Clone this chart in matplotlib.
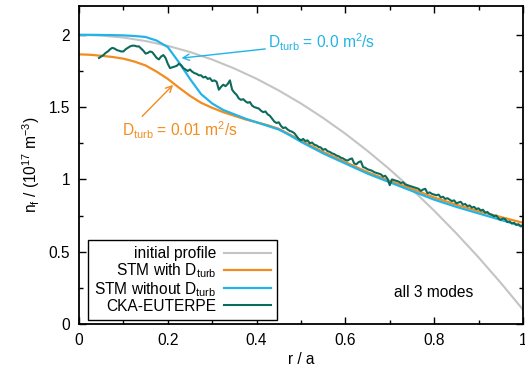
import numpy as np
import matplotlib
matplotlib.use("Agg")
import matplotlib.pyplot as plt

plt.rcParams['font.family'] = ['Liberation Sans', 'DejaVu Sans']
plt.rcParams['mathtext.fontset'] = 'custom'
plt.rcParams['mathtext.rm'] = 'Liberation Sans'
plt.rcParams['mathtext.it'] = 'Liberation Sans:italic'
plt.rcParams['font.size'] = 11.2

# initial profile
r_init = [0.0, 0.05, 0.1, 0.15, 0.2, 0.25, 0.3, 0.35, 0.4, 0.45, 0.5,
          0.55, 0.6, 0.65, 0.7, 0.75, 0.8, 0.85, 0.9, 0.95, 1.0]
n_init = [2.0, 1.995, 1.981, 1.957, 1.924, 1.881, 1.829, 1.767, 1.696, 1.615, 1.525,
          1.425, 1.316, 1.197, 1.069, 0.931, 0.784, 0.627, 0.461, 0.285, 0.10]

# STM curves
r_stm = [0.0, 0.025, 0.05, 0.075, 0.1, 0.125, 0.15, 0.175, 0.2, 0.225, 0.25,
         0.275, 0.3, 0.325, 0.35, 0.375, 0.4, 0.425, 0.45, 0.475, 0.5,
         0.55, 0.6, 0.65, 0.7, 0.75, 0.8, 0.85, 0.9, 0.95, 1.0]
n_stm_turb = [1.865, 1.862, 1.855, 1.847, 1.835, 1.815, 1.788, 1.745, 1.695, 1.635, 1.578,
              1.53, 1.495, 1.465, 1.44, 1.415, 1.395, 1.375, 1.35, 1.31, 1.27,
              1.19, 1.12, 1.05, 0.99, 0.935, 0.875, 0.825, 0.78, 0.74, 0.70]
n_stm_noturb = [2.0, 2.0, 1.999, 1.998, 1.996, 1.992, 1.985, 1.96, 1.915, 1.81, 1.695,
                1.59, 1.525, 1.48, 1.45, 1.42, 1.395, 1.37, 1.345, 1.305, 1.26,
                1.18, 1.11, 1.04, 0.98, 0.92, 0.86, 0.81, 0.765, 0.72, 0.675]

# CKA-EUTERPE, r = 0.045 ... 1.0 in steps of 0.005
r_cka = np.linspace(0.045, 1.0, 192)
n_cka = [1.84, 1.85, 1.86, 1.875, 1.885, 1.90, 1.91, 1.905, 1.895, 1.89,
         1.885, 1.885, 1.90, 1.91, 1.92, 1.925, 1.925, 1.92, 1.92, 1.905,
         1.89, 1.87, 1.875, 1.885, 1.88, 1.86, 1.84, 1.83, 1.85, 1.86,
         1.84, 1.80, 1.77, 1.775, 1.78, 1.785, 1.80, 1.79, 1.77, 1.76,
         1.75, 1.76, 1.745, 1.735, 1.73, 1.72, 1.72, 1.705, 1.71, 1.695,
         1.70, 1.68, 1.685, 1.675, 1.62, 1.64, 1.655, 1.645, 1.66, 1.685,
         1.62, 1.60, 1.585, 1.56, 1.55, 1.555, 1.54, 1.53, 1.535, 1.51,
         1.50, 1.495, 1.49, 1.475, 1.465, 1.47, 1.45, 1.44, 1.42, 1.40,
         1.39, 1.395, 1.37, 1.355, 1.36, 1.345, 1.335, 1.33, 1.32, 1.30,
         1.28, 1.27,
         1.28, 1.265, 1.27, 1.25, 1.255, 1.24, 1.235, 1.225, 1.22, 1.205,
         1.21, 1.195, 1.19, 1.18, 1.175, 1.165, 1.16, 1.15, 1.145, 1.135,
         1.13, 1.14, 1.145, 1.11, 1.105, 1.12, 1.125, 1.085, 1.08, 1.07,
         1.065, 1.06, 1.05, 1.045, 1.04, 1.035, 1.02, 1.025, 1.005, 0.96,
         1.0, 0.995, 0.99, 0.985, 0.975, 0.98, 0.965, 0.96, 0.955, 0.95,
         0.945, 0.94, 0.935, 0.92, 0.93, 0.935, 0.905, 0.91, 0.90, 0.895,
         0.89, 0.895, 0.875, 0.88, 0.865, 0.87, 0.86, 0.85, 0.855, 0.835,
         0.84, 0.845, 0.825, 0.83, 0.815, 0.82, 0.805, 0.81, 0.795, 0.80,
         0.785, 0.79, 0.77, 0.775, 0.76, 0.755, 0.745, 0.75, 0.73, 0.72,
         0.73, 0.725, 0.705, 0.71, 0.695, 0.70, 0.685, 0.69, 0.675, 0.685]

c_gray = '#c4c4c4'
c_orange = '#f28c1e'
c_blue = '#22b4e6'
c_green = '#0c6b5c'

fig, ax = plt.subplots(figsize=(5.25, 3.69), dpi=100)
fig.subplots_adjust(left=0.1505, right=0.996, top=0.984, bottom=0.122)

ax.plot(r_init, n_init, color=c_gray, lw=1.5, label='initial profile')
ax.plot(r_stm, n_stm_turb, color=c_orange, lw=1.6, label='STM with D$_\\mathrm{turb}$')
ax.plot(r_stm, n_stm_noturb, color=c_blue, lw=1.6, label='STM without D$_\\mathrm{turb}$')
ax.plot(r_cka, n_cka, color=c_green, lw=1.5, label='CKA-EUTERPE')

ax.annotate('D$_\\mathrm{turb}$ = 0.0 m$^2$/s', xy=(0.231, 1.839), xytext=(0.426, 1.945),
            color=c_blue, va='center', ha='left',
            arrowprops=dict(arrowstyle='->', color=c_blue, lw=1, shrinkA=0, shrinkB=0))
ax.annotate('D$_\\mathrm{turb}$ = 0.01 m$^2$/s', xy=(0.212, 1.654), xytext=(0.097, 1.343),
            color=c_orange, va='center', ha='left',
            arrowprops=dict(arrowstyle='->', color=c_orange, lw=1, shrinkA=0,
                            shrinkB=0, relpos=(0.15, 1.0)))
ax.text(0.80, 0.215, 'all 3 modes', ha='center', va='center')

ax.set_xlim(0, 1)
ax.set_ylim(0, 2.2)
ax.set_xticks([0, 0.2, 0.4, 0.6, 0.8, 1.0])
ax.set_xticklabels(['0', '0.2', '0.4', '0.6', '0.8', '1'])
ax.set_xticks(np.arange(0.1, 1.0, 0.2), minor=True)
ax.set_yticks([0, 0.5, 1.0, 1.5, 2.0])
ax.set_yticklabels(['0', '0.5', '1', '1.5', '2'])
ax.set_yticks([0.25, 0.75, 1.25, 1.75], minor=True)
ax.tick_params(which='both', direction='in', top=True, right=True, width=1)
ax.tick_params(which='major', length=5, pad=6.5)
ax.tick_params(which='minor', length=3)
for s in ax.spines.values():
    s.set_linewidth(1.3)

ax.set_xlabel('r / a', labelpad=3)
ax.set_ylabel('n$_\\mathrm{f}$ / (10$^{17}$ m$^{-3}$)', labelpad=5)

leg = ax.legend(loc='lower left', bbox_to_anchor=(0.02, 0.013), markerfirst=False,
                fancybox=False, edgecolor='black', framealpha=1,
                handlelength=3.0, handletextpad=0.5, labelspacing=0.0,
                borderpad=0.4, borderaxespad=0)
leg.get_frame().set_linewidth(1.0)

plt.savefig('out.png')
